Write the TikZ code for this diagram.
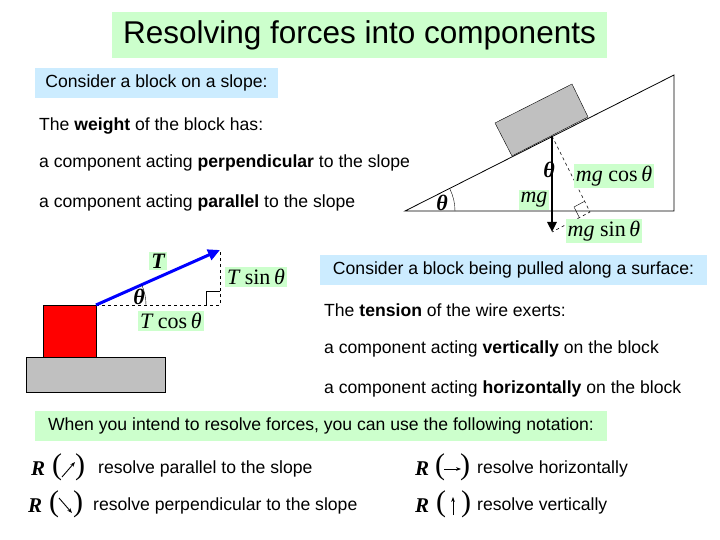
\documentclass[tikz,border=0pt]{standalone}
\usepackage{fontspec}
\setmainfont{Liberation Sans}
\newfontfamily\serf{Liberation Serif}
\usetikzlibrary{arrows.meta}
\definecolor{lgreen}{RGB}{204,255,204}
\definecolor{lblue}{RGB}{204,236,255}
\definecolor{gr}{RGB}{192,192,192}
\newcommand{\mi}[1]{{\itshape #1}}
\tikzset{
 txt/.style={anchor=west,inner sep=0pt,font=\fontsize{17.6}{20}\selectfont},
 gbox/.style={fill=lgreen,inner sep=2pt,font=\serf\fontsize{22}{24}\selectfont},
 mth/.style={inner sep=1pt,font=\serf\fontsize{22}{24}\selectfont\bfseries\itshape},
 dsh/.style={dashed,line width=0.6pt},
 Rsym/.style={anchor=west,inner sep=0pt,font=\serf\fontsize{21}{24}\selectfont\bfseries\itshape},
 par/.style={inner sep=0pt,font=\serf\fontsize{30}{30}\selectfont},
 narr/.style={line width=0.9pt,-{Stealth[length=5pt]}},
}
\begin{document}
\begin{tikzpicture}[x=1pt,y=-1pt]
\useasboundingbox (0,0) rectangle (720,540);
% title
\node[fill=lgreen,minimum width=495,minimum height=46,font=\fontsize{31.5}{34}\selectfont] (title) at (359.5,35) {Resolving forces into components};
\node[fill=lblue,minimum width=243,minimum height=30,font=\fontsize{17.6}{20}\selectfont] (c1) at (156.5,83) {Consider a block on a slope:};
\node[txt] (w) at (39,126) {The \textbf{weight} of the block has:};
\node[txt] (w1) at (39,163) {a component acting \textbf{perpendicular} to the slope};
\node[txt] (w2) at (39,203) {a component acting \textbf{parallel} to the slope};
% slope
\coordinate (A) at (405,211);
\coordinate (B) at (674,211);
\coordinate (C) at (674,75);
\draw[line width=0.8pt] (A) -- (B) -- (C) -- cycle;
\draw[fill=gr] (495,123) -- (572,84) -- (588,117) -- (512,156) -- cycle;
\coordinate (P) at (552,136);
\coordinate (Q) at (552,232);
\coordinate (F) at (590,212);
\draw[dsh] (P) -- (F) -- (Q);
\draw (584.6,201.3) -- (574,207) -- (579.4,217.6);
\draw[line width=2.5pt,-{Triangle[length=10pt,width=9pt]}] (P) -- (Q);
\draw (455,211) arc[start angle=0,end angle=26,radius=50pt];
\node[mth] (t1) at (442,203) {θ};
\node[mth] (t2) at (549,170) {θ};
\node[gbox] (mgc) at (614,176) {\mi{mg} cos\,\mi{θ}};
\node[gbox] (mg) at (534,200) {\mi{mg}};
\node[gbox] (mgs) at (604,231) {\mi{mg} sin\,\mi{θ}};
% pulled block
\draw[fill=gr] (26,357) rectangle (165,392);
\draw[fill=red] (43,305) rectangle (96,357);
\coordinate (S) at (96,305);
\coordinate (E) at (220,250);
\coordinate (H) at (220,305);
\draw[dsh] (S) -- (H) -- (E);
\draw (206,305) -- (206,291) -- (220,291);
\draw[blue,line width=3pt,-{Triangle[length=12pt,width=11pt]}] (S) -- (E);
\draw (146,305) arc[start angle=0,end angle=24,radius=50pt];
\node[mth] (tt) at (139,297) {θ};
\node[gbox] (T) at (158,261) {\bfseries\itshape T};
\node[gbox] (Ts) at (256,277) {\mi{T} sin\,\mi{θ}};
\node[gbox] (Tc) at (171,321) {\mi{T} cos\,\mi{θ}};
\node[fill=lblue,minimum width=387,minimum height=30,font=\fontsize{17.6}{20}\selectfont] (c2) at (513.5,270) {Consider a block being pulled along a surface:};
\node[txt] (t) at (324,310) {The \textbf{tension} of the wire exerts:};
\node[txt] (t1x) at (324,349) {a component acting \textbf{vertically} on the block};
\node[txt] (t2x) at (324,389) {a component acting \textbf{horizontally} on the block};
\node[fill=lgreen,minimum width=572,minimum height=30,font=\fontsize{17.6}{20}\selectfont] (c3) at (321,426) {When you intend to resolve forces, you can use the following notation:};
% notation
\node[Rsym] (R1) at (31,469) {R};
\node[par] (p1a) at (57,467) {(};
\node[par] (p1b) at (80,467) {)};
\draw[narr] (62,477) -- (75,462);
\node[txt] (n1) at (98,469) {resolve parallel to the slope};
\node[Rsym] (R2) at (28,506) {R};
\node[par] (p2a) at (54,504) {(};
\node[par] (p2b) at (78,504) {)};
\draw[narr] (59,498) -- (72,513);
\node[txt] (n2) at (93,506) {resolve perpendicular to the slope};
\node[Rsym] (R3) at (415,469) {R};
\node[par] (p3a) at (440,467) {(};
\node[par] (p3b) at (465,467) {)};
\draw[narr] (444,469) -- (461,469);
\node[txt] (n3) at (477,469) {resolve horizontally};
\node[Rsym] (R4) at (415,506) {R};
\node[par] (p4a) at (441,504) {(};
\node[par] (p4b) at (466,504) {)};
\draw[narr] (453,515) -- (453,497);
\node[txt] (n4) at (477,506) {resolve vertically};
\end{tikzpicture}
\end{document}
